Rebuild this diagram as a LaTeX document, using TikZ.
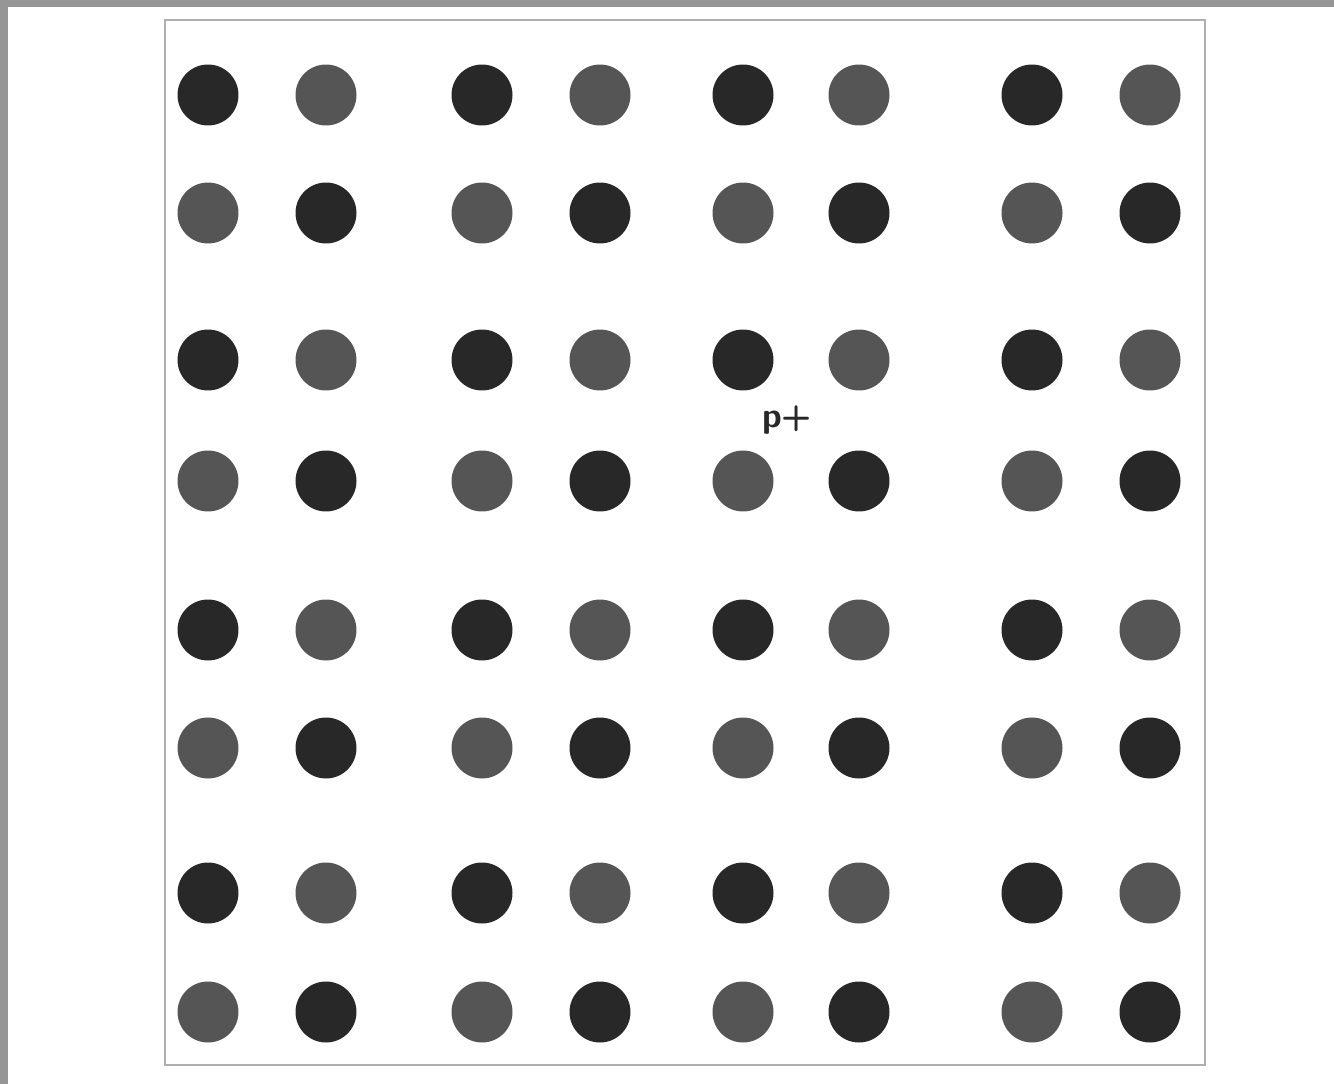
\documentclass[tikz,border=0pt]{standalone}
\usepackage{xcolor}
\usepackage{tikz}
\usetikzlibrary{positioning}
\definecolor{dotdark}{RGB}{40,40,40}
\definecolor{dotmid}{RGB}{85,85,85}
\definecolor{framegray}{RGB}{175,175,175}
\definecolor{edgegray}{RGB}{150,150,150}

\tikzset{
    darkdot/.style={circle, fill=dotdark, minimum size=1.22cm, inner sep=0pt},
    middot/.style={circle, fill=dotmid, minimum size=1.22cm, inner sep=0pt},
    celllabel/.style={text=dotdark, font=\sffamily\bfseries\fontsize{20}{20}\selectfont, inner sep=0pt}
}

\begin{document}
\begin{tikzpicture}[x=0.02cm, y=-0.02cm]
    \useasboundingbox (0,0) rectangle (1334,1084);
    % scanner edge
    \fill[edgegray] (0,0) rectangle (8,1084);
    \fill[edgegray] (0,0) rectangle (1334,7);
    % frame
    \draw[framegray, line width=1.2pt] (165,20) rectangle (1205,1065);
    % dots, checkerboard of two tones
    \foreach \x [count=\c] in {208,326,482,600,743,859,1032,1150} {
        \foreach \y [count=\r] in {95,213,360,481,630,748,893,1012} {
            \pgfmathparse{int(mod(\c+\r,2))}
            \ifnum\pgfmathresult=0
                \node[darkdot] (dot-\r-\c) at (\x,\y) {};
            \else
                \node[middot] (dot-\r-\c) at (\x,\y) {};
            \fi
        }
    }
    \node[celllabel] (plabel) at (787,420) {p+};
\end{tikzpicture}
\end{document}
